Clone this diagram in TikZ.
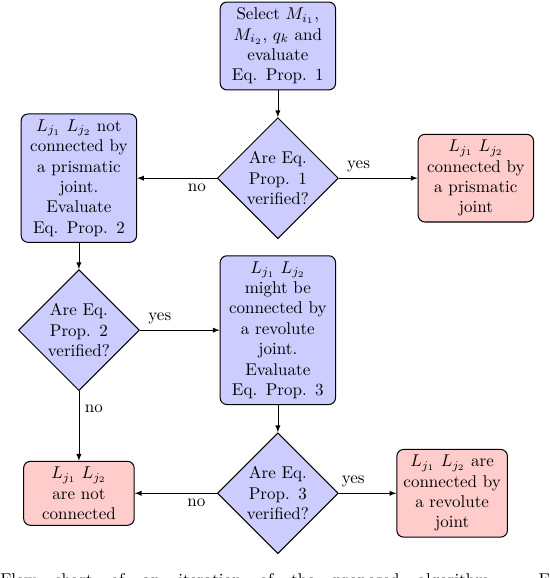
\documentclass[tikz,border=0pt]{standalone}
\usepackage{xcolor}
\usepackage{tikz}
\definecolor{lightblue}{RGB}{204,204,255}
\definecolor{lightred}{RGB}{255,204,204}
\usetikzlibrary{shapes.geometric}

\begin{document}
\begin{tikzpicture}[
    block/.style={rectangle, draw, semithick, fill=lightblue, rounded corners,
        text width=2.15cm, align=center},
    result/.style={block, fill=lightred},
    decision/.style={diamond, draw, semithick, fill=lightblue, aspect=1,
        inner sep=0pt, text width=1.4cm, align=center},
    line/.style={draw, -latex}
]
    \useasboundingbox (0,0) rectangle (11.36,-11.94);

    % First test: prismatic joint
    \node[block] (select) at (5.74,-0.95) {Select $M_{i_1}$,\\ $M_{i_2}$, $q_k$ and\\ evaluate\\ Eq. Prop. 1};
    \node[decision] (prop1) at (5.74,-3.68) {Are Eq.\\ Prop. 1\\ verified?};
    \node[block] (notprism) at (1.63,-3.68) {$L_{j_1}$ $L_{j_2}$ not\\ connected by\\ a prismatic\\ joint.\\ Evaluate\\ Eq. Prop. 2};
    \node[result] (prism) at (9.83,-3.68) {$L_{j_1}$ $L_{j_2}$\\ connected by\\ a prismatic\\ joint};

    % Second test
    \node[decision] (prop2) at (1.63,-6.82) {Are Eq.\\ Prop. 2\\ verified?};
    \node[block] (maybe) at (5.74,-6.82) {$L_{j_1}$ $L_{j_2}$\\ might be\\ connected by\\ a revolute\\ joint.\\ Evaluate\\ Eq. Prop. 3};

    % Third test: revolute joint
    \node[decision] (prop3) at (5.74,-10.19) {Are Eq.\\ Prop. 3\\ verified?};
    \node[result, text width=2.05cm] (notconn) at (1.63,-10.19) {$L_{j_1}$ $L_{j_2}$\\ are not\\ connected};
    \node[result, text width=2.05cm] (revol) at (9.34,-10.19) {$L_{j_1}$ $L_{j_2}$ are\\ connected by\\ a revolute\\ joint};

    % Connectors
    \path[line] (select) -- (prop1);
    \path[line] (prop1) -- node[near start, above] {yes} (prism);
    \path[line] (prop1) -- node[near start, below] {no} (notprism);
    \path[line] (notprism) -- (prop2);
    \path[line] (prop2) -- node[near start, above] {yes} (maybe);
    \path[line] (prop2) -- node[near start, right] {no} (notconn);
    \path[line] (maybe) -- (prop3);
    \path[line] (prop3) -- node[near start, above] {yes} (revol);
    \path[line] (prop3) -- node[near start, below] {no} (notconn);

    % Caption, cut by the page edge
    \node[anchor=north west, inner sep=0pt] (caption) at (0,-11.84)
        {\makebox[11.36cm][s]{Flow chart of an iteration of the proposed algorithm. E}};
\end{tikzpicture}
\end{document}
